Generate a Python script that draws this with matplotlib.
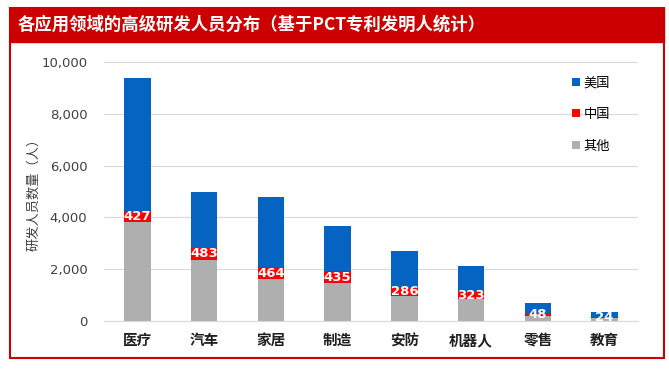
import matplotlib.pyplot as plt
from matplotlib.patches import Rectangle

plt.rcParams['font.family'] = ['Noto Sans CJK SC', 'DejaVu Sans']

# 数据
categories = ['医疗', '汽车', '家居', '制造', '安防', '机器人', '零售', '教育']
other = [3830, 2350, 1610, 1480, 980, 840, 210, 120]
china = [427, 483, 464, 435, 286, 323, 48, 24]
usa = [5120, 2150, 2730, 1765, 1430, 960, 420, 186]

blue = '#0563C1'
red = '#FF0000'
grey = '#AFAFAF'
dark_red = '#CC0000'

fig = plt.figure(figsize=(6.69, 3.70), dpi=100)

# 外框和标题栏
W, H = 669, 370
fig.patches.append(Rectangle((10 / W, 1 - 358 / H), 654 / W, 350 / H,
                             transform=fig.transFigure, fill=False,
                             edgecolor=dark_red, linewidth=1.5))
fig.patches.append(Rectangle((10 / W, 1 - 42 / H), 654 / W, 34 / H,
                             transform=fig.transFigure, facecolor=dark_red,
                             edgecolor=dark_red))
fig.text(18 / W, 1 - 25 / H, '各应用领域的高级研发人员分布（基于PCT专利发明人统计）',
         color='white', fontsize=12.5, fontweight='bold', va='center', ha='left')

ax = fig.add_axes([104 / W, 1 - 321 / H, 534 / W, 259 / H])

x = range(len(categories))
bottom2 = [o + c for o, c in zip(other, china)]
ax.bar(x, other, width=0.4, color=grey, label='其他', zorder=2)
ax.bar(x, china, width=0.4, bottom=other, color=red, label='中国', zorder=2)
ax.bar(x, usa, width=0.4, bottom=bottom2, color=blue, label='美国', zorder=2)

for i in x:
    ax.text(i, other[i] + china[i] / 2, str(china[i]), color='white',
            fontsize=9.5, fontweight='bold', ha='center', va='center',
            family='DejaVu Sans', zorder=3)

ax.set_xlim(-0.5, 7.5)
ax.set_ylim(0, 10000)
ax.set_yticks(range(0, 10001, 2000))
ax.set_yticklabels([f'{v:,}' for v in range(0, 10001, 2000)], fontsize=9.5,
                   color='#404040', family='DejaVu Sans')
ax.set_xticks(list(x))
ax.set_xticklabels(categories, fontsize=10.5, fontweight='bold', color='#202020')
ax.tick_params(length=0)
ax.tick_params(axis='y', pad=12)
ax.tick_params(axis='x', pad=8)
ax.grid(axis='y', color='#D9D9D9', linewidth=0.8, zorder=0)
for s in ['top', 'right', 'left']:
    ax.spines[s].set_visible(False)
ax.spines['bottom'].set_color('#D9D9D9')

ax.set_ylabel('研发人员数量（人）', fontsize=9.5, color='#404040')
ax.yaxis.set_label_coords(-0.12, 0.5)

handles, labels = ax.get_legend_handles_labels()
ax.legend(handles[::-1], labels[::-1], loc='upper right', frameon=False,
          fontsize=9.5, handlelength=0.6, handleheight=0.6, handletextpad=0.3,
          labelspacing=1.4, bbox_to_anchor=(0.97, 0.99))

fig.savefig('out.png', dpi=100)
